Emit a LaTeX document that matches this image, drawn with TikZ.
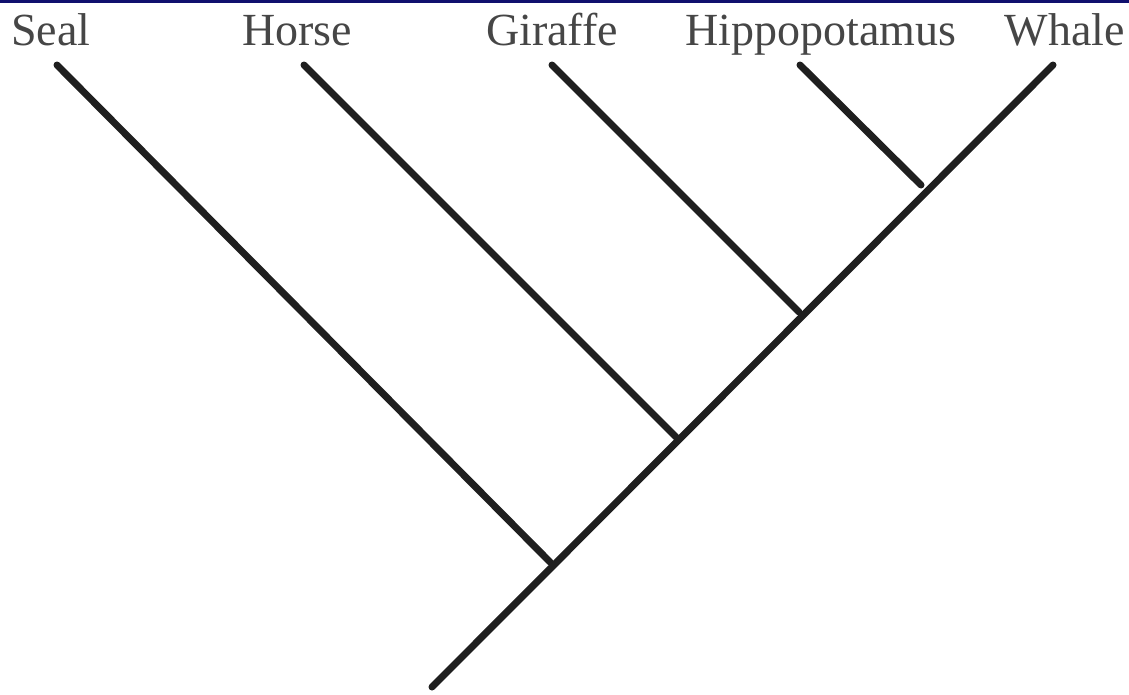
\documentclass[tikz,border=0pt]{standalone}
\usepackage{fontspec}
\setmainfont{Liberation Serif}
\definecolor{topbar}{RGB}{16,16,110}
\definecolor{labelgray}{RGB}{70,70,70}
\begin{document}
\begin{tikzpicture}[x=1pt,y=-1pt,
  branch/.style={line width=7pt,color=black!88,line cap=round},
  taxon/.style={anchor=base,text=labelgray,inner sep=0pt,font=\fontsize{46}{50}\selectfont}]
\useasboundingbox (0,0) rectangle (1129,694);
\fill[white] (0,0) rectangle (1129,694);
\fill[topbar] (0,0) rectangle (1129,3);
% labels
\node[taxon] (lseal) at (51,45) {Seal};
\node[taxon] (lhorse) at (297,45) {Horse};
\node[taxon] (lgiraffe) at (552,45) {Giraffe};
\node[taxon] (lhippo) at (821,45) {Hippopotamus};
\node[taxon] (lwhale) at (1065,45) {Whale};
% tips
\coordinate (tseal) at (57,65);
\coordinate (thorse) at (304,65);
\coordinate (tgiraffe) at (552,65);
\coordinate (thippo) at (800,65);
\coordinate (twhale) at (1053,65);
% internal nodes
\coordinate (root) at (432,687);
\coordinate (nseal) at (550,562);
\coordinate (nhorse) at (676,437);
\coordinate (ngiraffe) at (799,312);
\coordinate (nhippo) at (921,185);
% branches
\draw[branch] (root) -- (twhale);
\draw[branch] (nseal) -- (tseal);
\draw[branch] (nhorse) -- (thorse);
\draw[branch] (ngiraffe) -- (tgiraffe);
\draw[branch] (nhippo) -- (thippo);
\end{tikzpicture}
\end{document}
